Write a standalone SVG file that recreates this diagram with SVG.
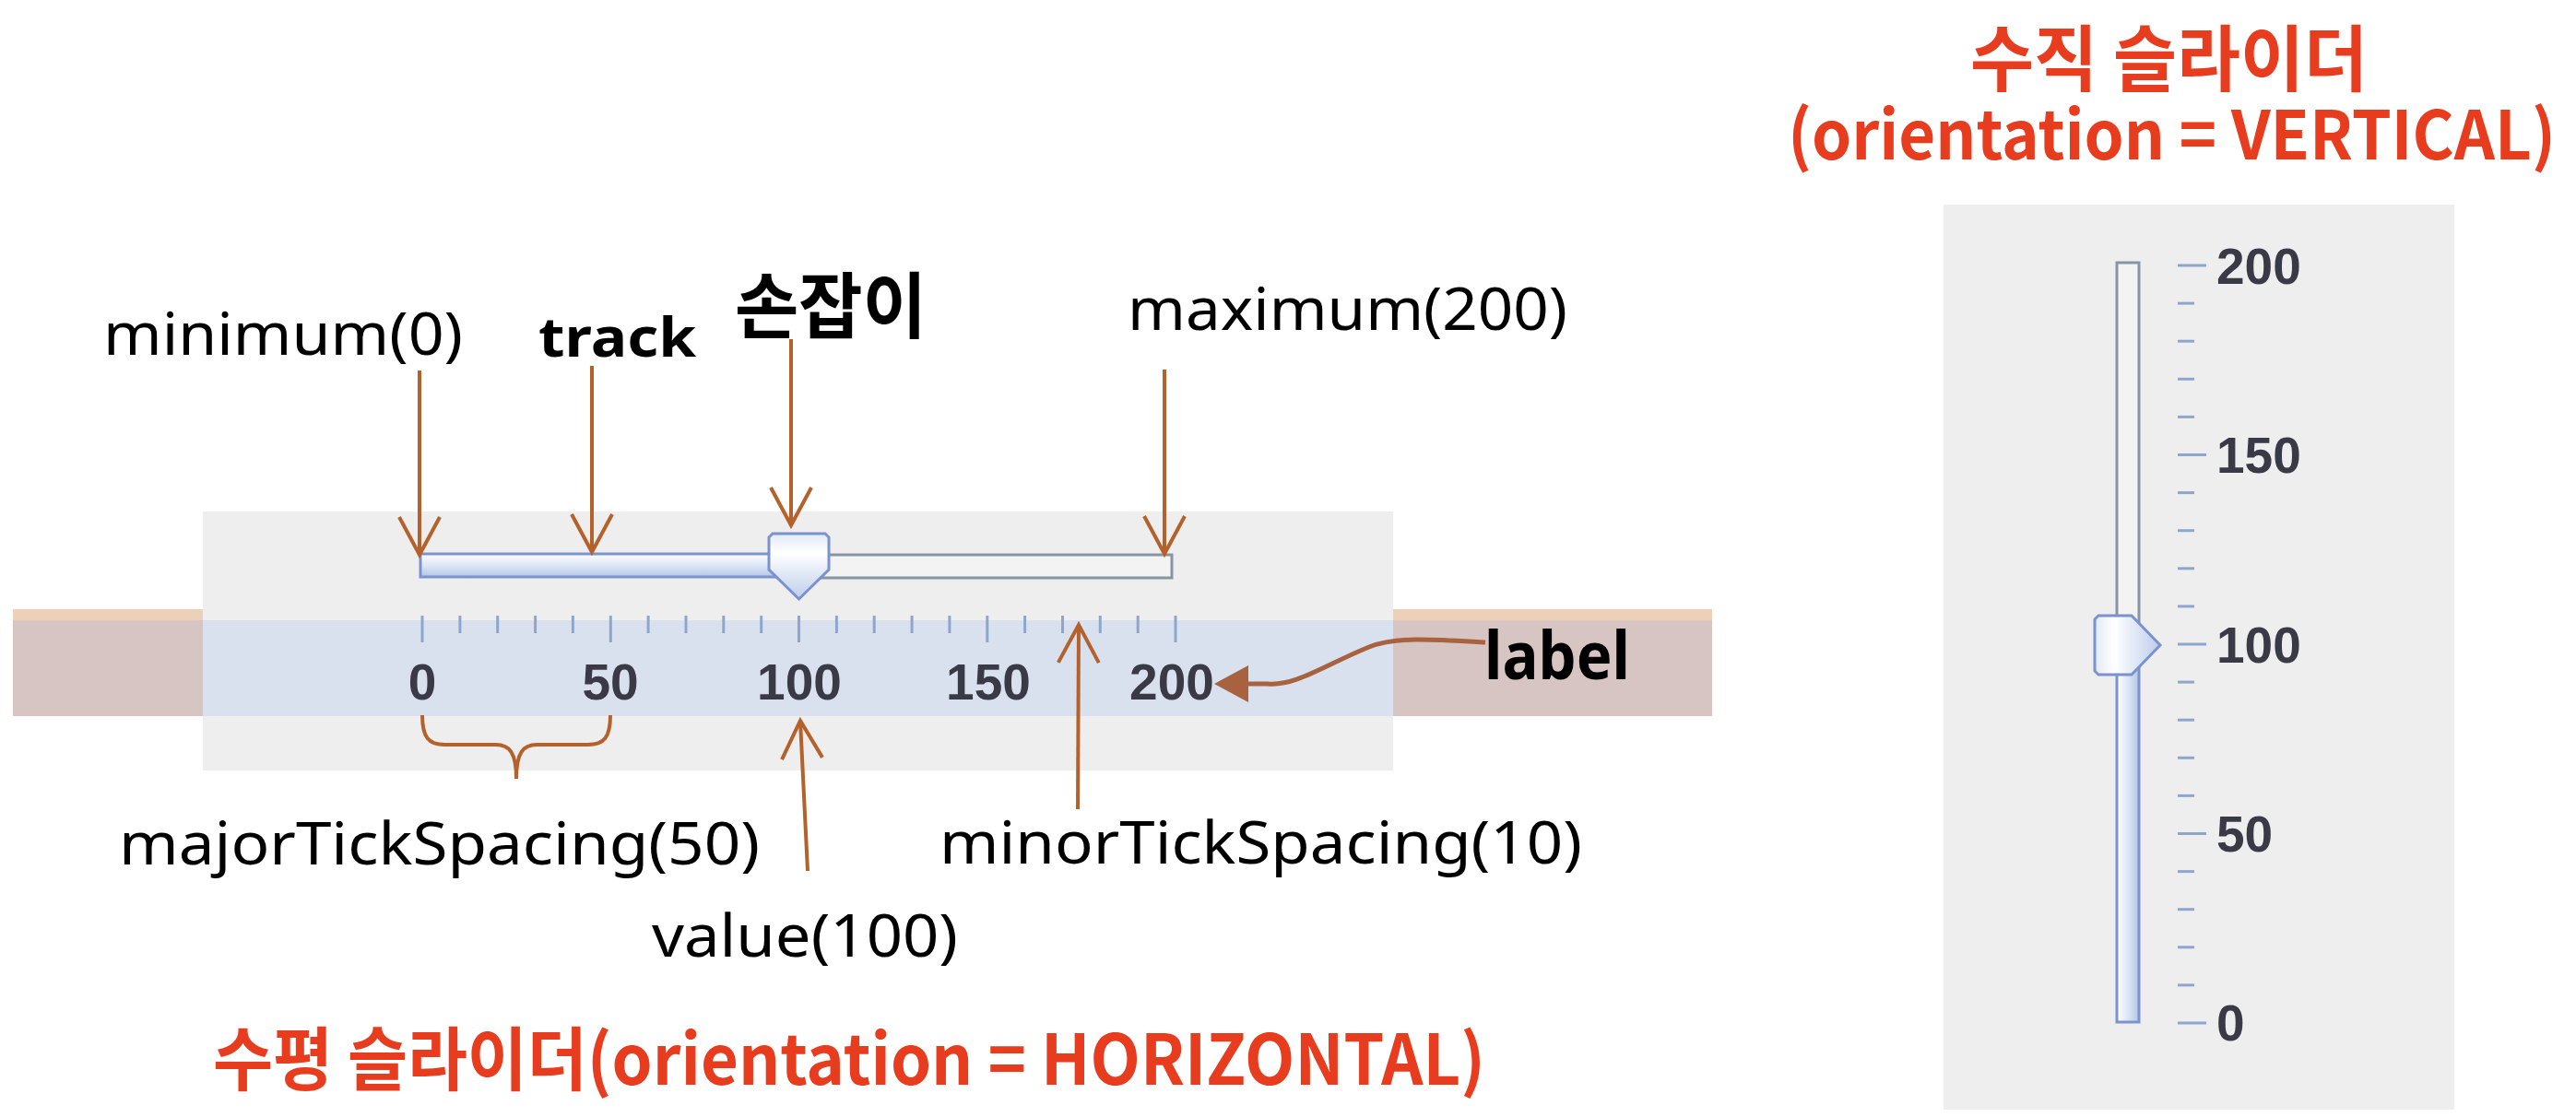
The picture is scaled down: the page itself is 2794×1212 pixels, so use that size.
<svg xmlns="http://www.w3.org/2000/svg" width="2794" height="1212" viewBox="0 0 2794 1212">
<style>
.lbl{font-family:"Noto Sans","Open Sans",sans-serif;font-size:64px;fill:#000}
.bld{font-family:"Noto Sans","Noto Sans CJK KR",sans-serif;font-weight:bold;fill:#000}
.kr{font-family:"Noto Sans CJK KR","Noto Sans",sans-serif;font-weight:bold}
.red{font-family:"Noto Sans CJK KR","Noto Sans",sans-serif;font-weight:bold;fill:#e83c1f}
.num{font-family:"Liberation Sans",Arial,sans-serif;font-weight:bold;font-size:55px;fill:#3a3a46}
.tick{stroke:#8fa6cc;stroke-width:3}
.arr{fill:none;stroke:#b5612c;stroke-width:4;marker-end:url(#v)}
</style>
<defs>
<marker id="v" markerUnits="userSpaceOnUse" markerWidth="60" markerHeight="60" refX="44" refY="24" orient="auto" viewBox="0 0 60 60">
<path d="M3,2 L44,24 L3,46" fill="none" stroke="#b5612c" stroke-width="4"/>
</marker>
<linearGradient id="gv" x1="0" y1="0" x2="0" y2="1">
<stop offset="0" stop-color="#ffffff"/><stop offset="0.5" stop-color="#dde6f5"/><stop offset="1" stop-color="#b4c5e5"/>
</linearGradient>
<linearGradient id="gh" x1="0" y1="0" x2="1" y2="0">
<stop offset="0" stop-color="#ffffff"/><stop offset="0.5" stop-color="#dde6f5"/><stop offset="1" stop-color="#b4c5e5"/>
</linearGradient>
<linearGradient id="tv" x1="0" y1="0" x2="0" y2="1">
<stop offset="0" stop-color="#e2eaf8"/><stop offset="0.3" stop-color="#ffffff"/><stop offset="1" stop-color="#bccdeb"/>
</linearGradient>
<linearGradient id="th" x1="0" y1="0" x2="1" y2="0">
<stop offset="0" stop-color="#e2eaf8"/><stop offset="0.3" stop-color="#ffffff"/><stop offset="1" stop-color="#bccdeb"/>
</linearGradient>
</defs>
<rect width="2794" height="1212" fill="#ffffff"/>

<g id="horizontal-slider">
<rect x="14" y="661" width="206" height="12" fill="#edd0b8"/>
<rect x="14" y="673" width="206" height="104" fill="#d7c5c3"/>
<rect x="1511" y="661" width="346" height="12" fill="#edd0b8"/>
<rect x="1511" y="673" width="346" height="104" fill="#d7c5c3"/>
<rect x="220" y="555" width="1291" height="281" fill="#eeeeee"/>
<rect x="220" y="673" width="1291" height="104" fill="#d9e1ee"/>
<rect x="862" y="602" width="409" height="25" fill="#f3f3f3" stroke="#8795a3" stroke-width="3"/>
<rect x="456" y="601" width="406" height="25" fill="url(#gv)" stroke="#7c93cf" stroke-width="3"/>
<g id="thumb-h">
<polygon points="834,583 838,579 895,579 899,583 899,618 866.5,650 834,618" fill="url(#tv)" stroke="#7b92cf" stroke-width="3"/>
</g>
<g id="h-ticks">
<line class="tick" x1="458" y1="668" x2="458" y2="697"/>
<line class="tick" x1="498.9" y1="668" x2="498.9" y2="687"/>
<line class="tick" x1="539.7" y1="668" x2="539.7" y2="687"/>
<line class="tick" x1="580.6" y1="668" x2="580.6" y2="687"/>
<line class="tick" x1="621.4" y1="668" x2="621.4" y2="687"/>
<line class="tick" x1="662.3" y1="668" x2="662.3" y2="697"/>
<line class="tick" x1="703.1" y1="668" x2="703.1" y2="687"/>
<line class="tick" x1="744" y1="668" x2="744" y2="687"/>
<line class="tick" x1="784.8" y1="668" x2="784.8" y2="687"/>
<line class="tick" x1="825.7" y1="668" x2="825.7" y2="687"/>
<line class="tick" x1="866.5" y1="668" x2="866.5" y2="697"/>
<line class="tick" x1="907.4" y1="668" x2="907.4" y2="687"/>
<line class="tick" x1="948.2" y1="668" x2="948.2" y2="687"/>
<line class="tick" x1="989.1" y1="668" x2="989.1" y2="687"/>
<line class="tick" x1="1029.9" y1="668" x2="1029.9" y2="687"/>
<line class="tick" x1="1070.8" y1="668" x2="1070.8" y2="697"/>
<line class="tick" x1="1111.6" y1="668" x2="1111.6" y2="687"/>
<line class="tick" x1="1152.5" y1="668" x2="1152.5" y2="687"/>
<line class="tick" x1="1193.3" y1="668" x2="1193.3" y2="687"/>
<line class="tick" x1="1234.2" y1="668" x2="1234.2" y2="687"/>
<line class="tick" x1="1275" y1="668" x2="1275" y2="697"/>
</g>
<g id="h-labels" text-anchor="middle">
<text class="num" x="458" y="759">0</text>
<text class="num" x="662" y="759">50</text>
<text class="num" x="867" y="759">100</text>
<text class="num" x="1072" y="759">150</text>
<text class="num" x="1271" y="759">200</text>
</g>
</g>

<g id="vertical-slider">
<rect x="2108" y="222" width="554" height="982" fill="#eeeeee"/>
<rect x="2296" y="285" width="24" height="420" fill="#f3f3f3" stroke="#8795a3" stroke-width="3"/>
<rect x="2296" y="700" width="24" height="409" fill="url(#gh)" stroke="#7c93cf" stroke-width="3"/>
<g id="thumb-v">
<polygon points="2272,672 2276,668 2312,668 2343,700 2312,732 2276,732 2272,728" fill="url(#th)" stroke="#7b92cf" stroke-width="3"/>
</g>
<g id="v-ticks">
<line class="tick" x1="2362" y1="1110" x2="2393" y2="1110"/>
<line class="tick" x1="2362" y1="1068.9" x2="2380" y2="1068.9"/>
<line class="tick" x1="2362" y1="1027.8" x2="2380" y2="1027.8"/>
<line class="tick" x1="2362" y1="986.7" x2="2380" y2="986.7"/>
<line class="tick" x1="2362" y1="945.6" x2="2380" y2="945.6"/>
<line class="tick" x1="2362" y1="904.5" x2="2393" y2="904.5"/>
<line class="tick" x1="2362" y1="863.4" x2="2380" y2="863.4"/>
<line class="tick" x1="2362" y1="822.3" x2="2380" y2="822.3"/>
<line class="tick" x1="2362" y1="781.2" x2="2380" y2="781.2"/>
<line class="tick" x1="2362" y1="740.1" x2="2380" y2="740.1"/>
<line class="tick" x1="2362" y1="699" x2="2393" y2="699"/>
<line class="tick" x1="2362" y1="657.9" x2="2380" y2="657.9"/>
<line class="tick" x1="2362" y1="616.8" x2="2380" y2="616.8"/>
<line class="tick" x1="2362" y1="575.7" x2="2380" y2="575.7"/>
<line class="tick" x1="2362" y1="534.6" x2="2380" y2="534.6"/>
<line class="tick" x1="2362" y1="493.5" x2="2393" y2="493.5"/>
<line class="tick" x1="2362" y1="452.4" x2="2380" y2="452.4"/>
<line class="tick" x1="2362" y1="411.3" x2="2380" y2="411.3"/>
<line class="tick" x1="2362" y1="370.2" x2="2380" y2="370.2"/>
<line class="tick" x1="2362" y1="329.1" x2="2380" y2="329.1"/>
<line class="tick" x1="2362" y1="288" x2="2393" y2="288"/>
</g>
<g id="v-labels">
<text class="num" x="2404" y="1129">0</text>
<text class="num" x="2404" y="924">50</text>
<text class="num" x="2404" y="719">100</text>
<text class="num" x="2404" y="513">150</text>
<text class="num" x="2404" y="308">200</text>
</g>
</g>

<g id="label-minimum"><text class="lbl" x="112" y="385" textLength="390" lengthAdjust="spacingAndGlyphs">minimum(0)</text></g>
<g id="label-track"><text class="bld" x="584" y="387" font-size="60" textLength="171" lengthAdjust="spacingAndGlyphs">track</text></g>
<g id="label-thumb"><text class="kr" x="797" y="361" font-size="78" fill="#000" textLength="208" lengthAdjust="spacingAndGlyphs">손잡이</text></g>
<g id="label-maximum"><text class="lbl" x="1223" y="358" textLength="477" lengthAdjust="spacingAndGlyphs">maximum(200)</text></g>
<g id="label-major"><text class="lbl" x="129" y="938" textLength="695" lengthAdjust="spacingAndGlyphs">majorTickSpacing(50)</text></g>
<g id="label-value"><text class="lbl" x="707" y="1038" textLength="332" lengthAdjust="spacingAndGlyphs">value(100)</text></g>
<g id="label-minor"><text class="lbl" x="1019" y="937" textLength="697" lengthAdjust="spacingAndGlyphs">minorTickSpacing(10)</text></g>
<g id="label-label"><text class="bld" x="1610" y="737" font-size="72" fill="#0e1726" textLength="158" lengthAdjust="spacingAndGlyphs">label</text></g>
<g id="title-horizontal"><text class="red" x="231" y="1177" font-size="75" textLength="1380" lengthAdjust="spacingAndGlyphs">수평 슬라이더(orientation = HORIZONTAL)</text></g>
<g id="title-vertical">
<text class="red" x="2137" y="93" font-size="78" textLength="431" lengthAdjust="spacingAndGlyphs">수직 슬라이더</text>
<text class="red" x="1939" y="173" font-size="73" textLength="833" lengthAdjust="spacingAndGlyphs">(orientation = VERTICAL)</text>
</g>

<g id="connectors">
<path class="arr" d="M455,402 L455,602"/>
<path class="arr" d="M642,397 L642,599"/>
<path class="arr" d="M858,368 L858,570"/>
<path class="arr" d="M1263,401 L1263,601"/>
<path class="arr" d="M876,945 L868,782"/>
<path class="arr" d="M1169,878 L1170,678"/>
<path d="M458,776 C458,800 465,808 482,808 L538,808 C552,808 560,816 560,845 C560,816 568,808 582,808 L638,808 C655,808 662,800 662,776" fill="none" stroke="#b5612c" stroke-width="4"/>
<path d="M1611,697 C1560,694 1515,690 1485,702 C1440,720 1405,745 1375,742 L1350,742" fill="none" stroke="#a8623f" stroke-width="5"/>
<polygon points="1317,742 1354,722 1354,762" fill="#a8623f"/>
</g>
</svg>
